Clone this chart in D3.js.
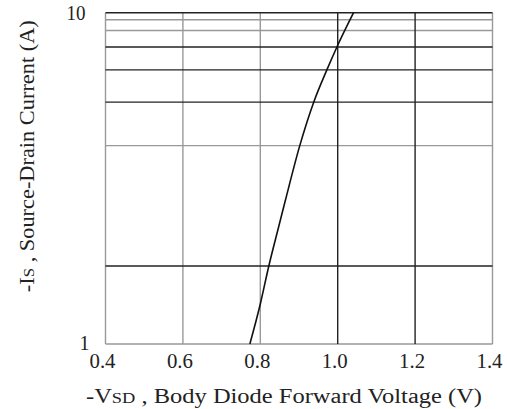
<!DOCTYPE html>
<html>
<head>
<meta charset="utf-8">
<script src="https://cdn.jsdelivr.net/npm/d3@7"></script>
<style>
  body { margin: 0; background: #fff; }
  text { font-family: "Liberation Serif", "DejaVu Serif", serif; fill: #222; }
</style>
</head>
<body>
<div id="chart"></div>
<script>
// data
var vsd = [0.773, 0.800, 0.822, 0.845, 0.865, 0.902, 0.938, 0.972, 0.998, 1.041];
var is  = [1.0, 1.32, 1.72, 2.2, 2.72, 3.97, 5.37, 6.72, 7.88, 10.0];

var xTicks = [0.4, 0.6, 0.8, 1.0, 1.2, 1.4];
var xGridDark = [1.0, 1.2];
var xGridLight = [0.4, 0.6, 0.8, 1.4];
var yGridDark = [1.72, 5.37, 6.72, 7.88, 10];
var yGridLight = [1, 3.97, 8.84, 9.52];

var margin = {top: 12.7, right: 15.5, bottom: 65, left: 105.5},
    width = 508 - margin.left - margin.right,
    height = 409 - margin.top - margin.bottom;

var svg = d3.select("#chart")
  .append("svg")
    .attr("width", 508)
    .attr("height", 409)
  .append("g")
    .attr("transform", "translate(" + margin.left + "," + margin.top + ")");

var x = d3.scaleLinear().domain([0.4, 1.4]).range([0, width]);
var y = d3.scaleLog().domain([1, 10]).range([height, 0]);

// grid
svg.selectAll(".vgl").data(xGridLight).enter().append("line")
    .attr("x1", function(d){ return x(d); }).attr("x2", function(d){ return x(d); })
    .attr("y1", 0).attr("y2", height)
    .style("stroke", "#999").style("stroke-width", 1.4);
svg.selectAll(".hgl").data(yGridLight).enter().append("line")
    .attr("x1", 0).attr("x2", width)
    .attr("y1", function(d){ return y(d); }).attr("y2", function(d){ return y(d); })
    .style("stroke", "#999").style("stroke-width", 1.4);
svg.selectAll(".vgd").data(xGridDark).enter().append("line")
    .attr("x1", function(d){ return x(d); }).attr("x2", function(d){ return x(d); })
    .attr("y1", 0).attr("y2", height)
    .style("stroke", "#222").style("stroke-width", 1.4);
svg.selectAll(".hgd").data(yGridDark).enter().append("line")
    .attr("x1", 0).attr("x2", width)
    .attr("y1", function(d){ return y(d); }).attr("y2", function(d){ return y(d); })
    .style("stroke", "#222").style("stroke-width", 1.4);

// curve
var line = d3.line()
    .x(function(d){ return x(d[0]); })
    .y(function(d){ return y(d[1]); })
    .curve(d3.curveMonotoneX);
svg.append("path")
    .datum(vsd.map(function(v, i){ return [v, is[i]]; }))
    .attr("d", line)
    .style("fill", "none")
    .style("stroke", "#111")
    .style("stroke-width", 1.6);

// tick labels
svg.selectAll(".xt").data(xTicks).enter().append("text")
    .attr("x", function(d){ return x(d) - 3; })
    .attr("y", height + 24)
    .attr("text-anchor", "middle")
    .attr("textLength", 26)
    .attr("lengthAdjust", "spacingAndGlyphs")
    .style("font-size", "20px")
    .text(function(d){ return d.toFixed(1); });

svg.append("text")
    .attr("x", -20).attr("y", y(10) + 7)
    .attr("text-anchor", "end")
    .attr("textLength", 19)
    .attr("lengthAdjust", "spacingAndGlyphs")
    .style("font-size", "20px")
    .text("10");
svg.append("text")
    .attr("x", -16).attr("y", y(1) + 6)
    .attr("text-anchor", "end")
    .style("font-size", "20px")
    .text("1");

// axis titles
var xl = svg.append("text")
    .attr("x", 178.5).attr("y", height + 59)
    .attr("text-anchor", "middle")
    .attr("textLength", 396)
    .attr("lengthAdjust", "spacingAndGlyphs")
    .style("font-size", "20px");
xl.append("tspan").text("-V");
xl.append("tspan").style("font-size", "15px").text("SD");
xl.append("tspan").text(" , Body Diode Forward Voltage (V)");

var yl = svg.append("text")
    .attr("transform", "translate(" + (-71.5) + "," + 143.5 + ") rotate(-90)")
    .attr("text-anchor", "middle")
    .attr("textLength", 272)
    .attr("lengthAdjust", "spacingAndGlyphs")
    .style("font-size", "20px");
yl.append("tspan").text("-I");
yl.append("tspan").style("font-size", "15px").text("S");
yl.append("tspan").text(" , Source-Drain Current (A)");
</script>
</body>
</html>
